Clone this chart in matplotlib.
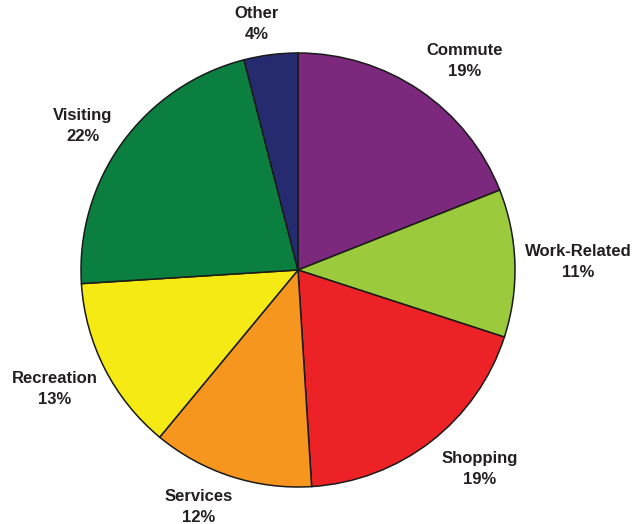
import matplotlib
matplotlib.use("Agg")
import matplotlib.pyplot as plt

categories = ["Commute", "Work-Related", "Shopping", "Services",
              "Recreation", "Visiting", "Other"]
shares = [19, 11, 19, 12, 13, 22, 4]
colors = ["#7b287d", "#9bcb3c", "#ec2227", "#f7961e",
          "#f5ea14", "#0b7f40", "#262a6f"]

labels = ["%s\n%d%%" % (c, v) for c, v in zip(categories, shares)]

# hand-placed label anchors (axes units, origin bottom-left)
label_xy = [(465, 463), (578, 262), (480, 55), (199, 17),
            (55, 135), (83, 398), (257, 500)]

fig = plt.figure(figsize=(6.39, 5.24), dpi=100)
ax = fig.add_axes([0, 0, 1, 1])

wedges, texts = ax.pie(shares, labels=labels, colors=colors,
                       startangle=90, counterclock=False,
                       center=(298, 254), radius=217,
                       frame=True,
                       wedgeprops=dict(edgecolor="#1a1a1a", linewidth=1.1))
ax.set_xlim(0, 639)
ax.set_ylim(0, 524)
ax.set_aspect("equal")
ax.axis("off")

for t, xy in zip(texts, label_xy):
    t.set_position(xy)
    t.set_ha("center")
    t.set_va("center")
    t.set_fontsize(12)
    t.set_fontweight("bold")
    t.set_family("Liberation Sans")
    t.set_color("#231f20")
    t.set_linespacing(1.5)

fig.savefig("out.png", dpi=100)
